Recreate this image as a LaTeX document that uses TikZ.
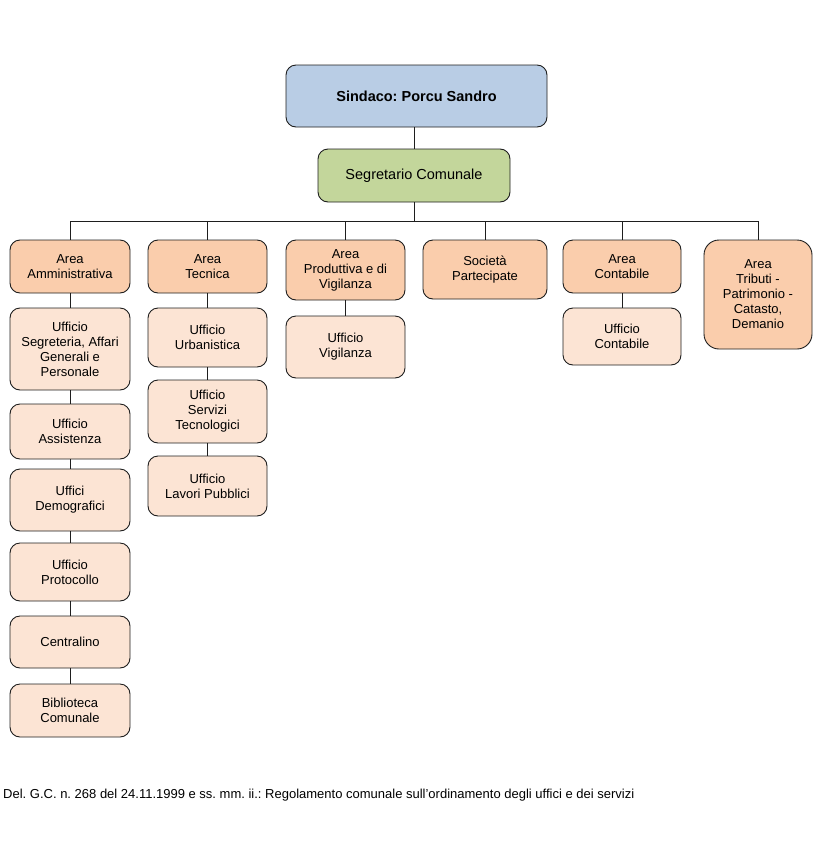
\documentclass[tikz,border=0pt]{standalone}
\usepackage{fontspec}
\setmainfont{Liberation Sans}
\frenchspacing
\definecolor{sindfill}{RGB}{185,205,229}
\definecolor{segfill}{RGB}{195,214,155}
\definecolor{areafill}{RGB}{250,205,172}
\definecolor{offfill}{RGB}{252,228,212}
\definecolor{edgecol}{RGB}{30,30,30}
\begin{document}
\begin{tikzpicture}[x=1pt,y=-1pt,
  box/.style={draw=edgecol,line width=0.9pt,rounded corners=10pt,inner sep=0pt,align=center,
    font=\fontsize{13}{15}\selectfont},
  areabox/.style={box,fill=areafill},
  offbox/.style={box,fill=offfill},
  link/.style={draw=edgecol,line width=0.9pt}]
\useasboundingbox (0,0) rectangle (829,854);
\node[box,fill=sindfill,minimum width=261,minimum height=62,font=\fontsize{14.5}{17}\selectfont\bfseries] (sind) at (416.5,96) {Sindaco: Porcu Sandro};
\node[box,fill=segfill,minimum width=192,minimum height=53,font=\fontsize{14.5}{17}\selectfont] (segr) at (414,175.5) {Segretario Comunale};
% areas
\node[areabox,minimum width=120,minimum height=53] (aa) at (70,266.5) {Area\\Amministrativa};
\node[areabox,minimum width=119,minimum height=53] (at) at (207.5,266.5) {Area\\Tecnica};
\node[areabox,minimum width=119,minimum height=60] (ap) at (345.5,270) {Area\\Produttiva e di\\Vigilanza};
\node[areabox,minimum width=124,minimum height=59] (sp) at (485,269.5) {Società\\Partecipate};
\node[areabox,minimum width=118,minimum height=53] (ac) at (622,266.5) {Area\\Contabile};
\node[areabox,minimum width=108,minimum height=109,rounded corners=15pt] (atr) at (758,294.5) {Area\\Tributi -\\Patrimonio -\\Catasto,\\Demanio};
% column 1
\node[offbox,minimum width=120,minimum height=82] (u1) at (70,349) {Ufficio\\Segreteria, Affari\\Generali e\\Personale};
\node[offbox,minimum width=120,minimum height=55] (u2) at (70,431.5) {Ufficio\\Assistenza};
\node[offbox,minimum width=120,minimum height=62] (u3) at (70,500) {Uffici\\Demografici};
\node[offbox,minimum width=120,minimum height=58] (u4) at (70,572) {Ufficio\\Protocollo};
\node[offbox,minimum width=120,minimum height=52] (u5) at (70,642) {Centralino};
\node[offbox,minimum width=120,minimum height=53] (u6) at (70,710.5) {Biblioteca\\Comunale};
% column 2
\node[offbox,minimum width=119,minimum height=59] (t1) at (207.5,337.5) {Ufficio\\Urbanistica};
\node[offbox,minimum width=119,minimum height=63] (t2) at (207.5,411.5) {Ufficio\\Servizi\\Tecnologici};
\node[offbox,minimum width=119,minimum height=60] (t3) at (207.5,486) {Ufficio\\Lavori Pubblici};
% column 3
\node[offbox,minimum width=119,minimum height=62] (p1) at (345.5,347) {Ufficio\\Vigilanza};
% column 5
\node[offbox,minimum width=118,minimum height=57] (c1) at (622,336.5) {Ufficio\\Contabile};
% connectors
\draw[link] (segr.north) -- (segr.north |- sind.south);
\coordinate (bus) at (414,221);
\draw[link] (segr.south) -- (bus);
\foreach \n in {aa,at,ap,sp,ac,atr}{
  \draw[link] (bus) -| (\n.north);
}
\draw[link] (aa.south) -- (u1.north);
\draw[link] (u1.south) -- (u2.north);
\draw[link] (u2.south) -- (u3.north);
\draw[link] (u3.south) -- (u4.north);
\draw[link] (u4.south) -- (u5.north);
\draw[link] (u5.south) -- (u6.north);
\draw[link] (at.south) -- (t1.north);
\draw[link] (t1.south) -- (t2.north);
\draw[link] (t2.south) -- (t3.north);
\draw[link] (ap.south) -- (p1.north);
\draw[link] (ac.south) -- (c1.north);
% footer
\node[anchor=west,inner sep=0pt,font=\fontsize{13}{15}\selectfont] (foot) at (3,795) {Del. G.C. n. 268 del 24.11.1999 e ss. mm. ii.: Regolamento comunale sull'ordinamento degli uffici e dei servizi};
\end{tikzpicture}
\end{document}
